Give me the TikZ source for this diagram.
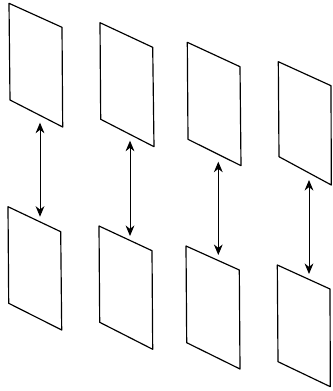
\documentclass[tikz,border=0pt]{standalone}
\usetikzlibrary{arrows.meta}
\tikzset{
  panel/.style={line width=1pt, line join=round},
  link/.style={line width=0.8pt, {Stealth[length=9pt,width=7.5pt]}-{Stealth[length=9pt,width=7.5pt]}}
}
\begin{document}
\begin{tikzpicture}[x=0.03cm, y=-0.03cm]
  \useasboundingbox (0,0) rectangle (332,391);
  % upper row
  \draw[panel] (9,3.3) -- (62,27.3) -- (62.7,127) -- (10,100) -- cycle;
  \draw[panel] (100,22.7) -- (152.7,47.3) -- (154,146.7) -- (100.7,119.3) -- cycle;
  \draw[panel] (187.3,42.3) -- (240,66.7) -- (241,165.7) -- (188,139.3) -- cycle;
  \draw[panel] (278.3,61.7) -- (331,85.7) -- (331.3,185) -- (279,156.7) -- cycle;
  % lower row
  \draw[panel] (8,206.7) -- (60.7,231.7) -- (61.7,330) -- (8.7,303.3) -- cycle;
  \draw[panel] (99,226) -- (152,250.7) -- (152.7,349.3) -- (99.7,322.3) -- cycle;
  \draw[panel] (186,246) -- (239.3,270) -- (240,369) -- (186.7,342.7) -- cycle;
  \draw[panel] (277.3,265) -- (330,289) -- (330.3,386.7) -- (278,361.7) -- cycle;
  % arrow ends
  \coordinate (t1) at (40,122.7);
  \coordinate (b1) at (40,216.7);
  \coordinate (t2) at (130,140.7);
  \coordinate (b2) at (130,236);
  \coordinate (t3) at (218.3,161.7);
  \coordinate (b3) at (218.3,255);
  \coordinate (t4) at (309,180);
  \coordinate (b4) at (309,274);
  \begin{scope}[link]
    \draw (t1) -- (b1);
    \draw (t2) -- (b2);
    \draw (t3) -- (b3);
    \draw (t4) -- (b4);
  \end{scope}
\end{tikzpicture}
\end{document}
